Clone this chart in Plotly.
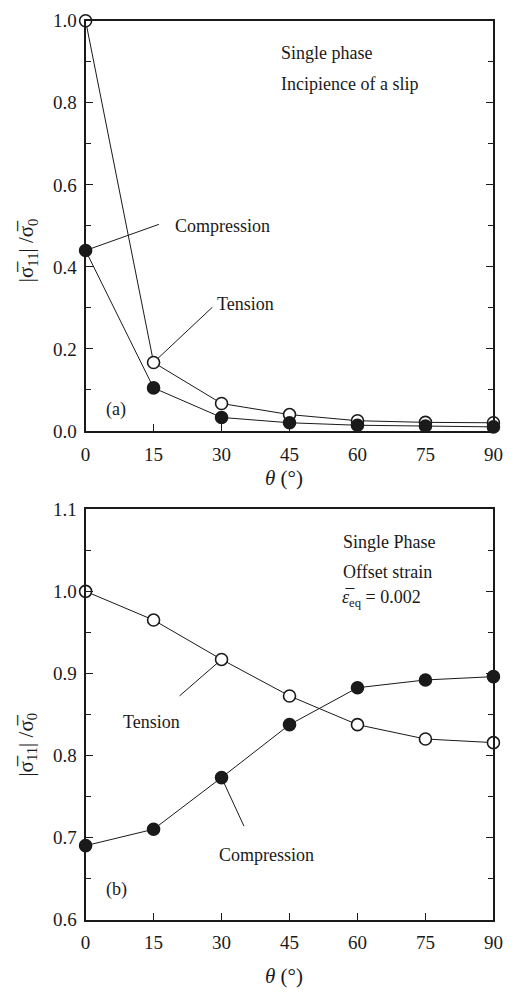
import plotly.graph_objects as go

# Loading angle theta (degrees)
theta = [0, 15, 30, 45, 60, 75, 90]

# (a) Incipience of a slip: normalised stress |sigma11| / sigma0
slip_tension = [1.0, 0.167, 0.067, 0.040, 0.025, 0.021, 0.020]
slip_compression = [0.44, 0.105, 0.033, 0.020, 0.014, 0.012, 0.010]

# (b) Offset strain 0.002: normalised stress |sigma11| / sigma0
offset_tension = [1.0, 0.965, 0.917, 0.8725, 0.8375, 0.820, 0.8156]
offset_compression = [0.690, 0.710, 0.773, 0.8375, 0.8825, 0.892, 0.896]

x_ticks = [0, 15, 30, 45, 60, 75, 90]

W, H = 518, 1001
FONT = "Liberation Serif, Times New Roman, serif"
BLACK = "#1a1a1a"


def px_x(p):
    return p / W


def px_y(p):
    return 1 - p / H


open_marker = dict(symbol="circle", size=12, color="white",
                   line=dict(color=BLACK, width=1.6))
solid_marker = dict(symbol="circle", size=12, color=BLACK,
                    line=dict(color=BLACK, width=1.6))
line_style = dict(color=BLACK, width=1)

fig = go.Figure()

fig.add_trace(go.Scatter(x=theta, y=slip_tension, mode="lines+markers",
                         marker=open_marker, line=line_style, cliponaxis=False,
                         xaxis="x", yaxis="y", showlegend=False))
fig.add_trace(go.Scatter(x=theta, y=slip_compression, mode="lines+markers",
                         marker=solid_marker, line=line_style, cliponaxis=False,
                         xaxis="x", yaxis="y", showlegend=False))
fig.add_trace(go.Scatter(x=theta, y=offset_tension, mode="lines+markers",
                         marker=open_marker, line=line_style, cliponaxis=False,
                         xaxis="x2", yaxis="y2", showlegend=False))
fig.add_trace(go.Scatter(x=theta, y=offset_compression, mode="lines+markers",
                         marker=solid_marker, line=line_style, cliponaxis=False,
                         xaxis="x2", yaxis="y2", showlegend=False))

tick_font = dict(family=FONT, size=19, color=BLACK)

xcommon = dict(range=[0, 90], tickvals=x_ticks, ticks="inside", ticklen=7,
               tickwidth=1.2, tickcolor=BLACK, showline=True, linewidth=2,
               linecolor=BLACK, mirror=True, showgrid=False, zeroline=False,
               tickfont=tick_font, ticklabelstandoff=5,
               domain=[px_x(83), px_x(503)])
ycommon = dict(ticks="inside", ticklen=7, tickwidth=1.2, tickcolor=BLACK,
               showline=True, linewidth=2, linecolor=BLACK, mirror="ticks",
               showgrid=False, zeroline=False, tickfont=tick_font,
               tickformat=".1f", ticklabelstandoff=3)

fig.update_layout(
    width=W, height=H,
    margin=dict(l=0, r=0, t=0, b=0),
    paper_bgcolor="white", plot_bgcolor="white",
    font=dict(family=FONT, color=BLACK),
    xaxis=dict(**xcommon, anchor="y"),
    yaxis=dict(**ycommon, anchor="x", range=[0, 1], dtick=0.2,
               minor=dict(dtick=0.1, ticks="inside", ticklen=5,
                          tickcolor=BLACK, tickwidth=1.2),
               domain=[px_y(430), px_y(11)]),
    xaxis2=dict(**xcommon, anchor="y2"),
    yaxis2=dict(**ycommon, anchor="x2", range=[0.6, 1.1], dtick=0.1,
                minor=dict(dtick=0.05, ticks="inside", ticklen=5,
                           tickcolor=BLACK, tickwidth=1.2),
                domain=[px_y(929), px_y(510)]),
)

text_font = dict(family=FONT, size=18, color=BLACK)
annotations = []


def label(text, x, y, xref, yref, anchor="left"):
    annotations.append(dict(text=text, x=x, y=y, xref=xref, yref=yref,
                            xanchor=anchor, yanchor="middle", showarrow=False,
                            font=text_font))


def leader(x, y, ax, ay, xref, yref):
    annotations.append(dict(text="", x=x, y=y, ax=ax, ay=ay, xref=xref,
                            yref=yref, axref=xref, ayref=yref, showarrow=True,
                            arrowhead=0, arrowwidth=1, arrowcolor=BLACK,
                            standoff=6))


# Panel (a)
label("Single phase", 42.6, 0.921, "x", "y")
label("Incipience of a slip", 42.6, 0.845, "x", "y")
label("Compression", 19.3, 0.50, "x", "y")
leader(theta[0], slip_compression[0], 16.5, 0.505, "x", "y")
label("Tension", 28.6, 0.31, "x", "y")
leader(theta[1], slip_tension[1], 28.3, 0.305, "x", "y")
label("(a)", 4.1, 0.052, "x", "y")

# Panel (b)
label("Single Phase", 56.4, 1.0606, "x2", "y2")
label("Offset strain", 56.4, 1.0236, "x2", "y2")
label("<i>ε\u0305</i><sub>eq</sub> = 0.002", 56.2, 0.9914, "x2", "y2")
label("Tension", 7.9, 0.841, "x2", "y2")
leader(theta[2], offset_tension[2], 20.4, 0.871, "x2", "y2")
label("Compression", 28.9, 0.679, "x2", "y2")
leader(theta[2], offset_compression[2], 35.1, 0.712, "x2", "y2")
label("(b)", 4.1, 0.637, "x2", "y2")

# Axis titles
ytitle = "|σ\u0305<sub>11</sub>| /σ\u0305<sub>0</sub>"
for yc in (245, 750):
    annotations.append(dict(text=ytitle, x=px_x(23), y=px_y(yc),
                            xref="paper", yref="paper", textangle=-90,
                            xanchor="center", yanchor="middle",
                            showarrow=False, font=dict(family=FONT, size=21,
                                                       color=BLACK)))
for yc in (478, 987):
    annotations.append(dict(text="<i>θ</i> (°)", x=px_x(287), y=px_y(yc),
                            xref="paper", yref="paper", xanchor="center",
                            yanchor="middle", showarrow=False,
                            font=dict(family=FONT, size=21, color=BLACK)))

fig.update_layout(annotations=annotations)

fig.write_html("out.html")
